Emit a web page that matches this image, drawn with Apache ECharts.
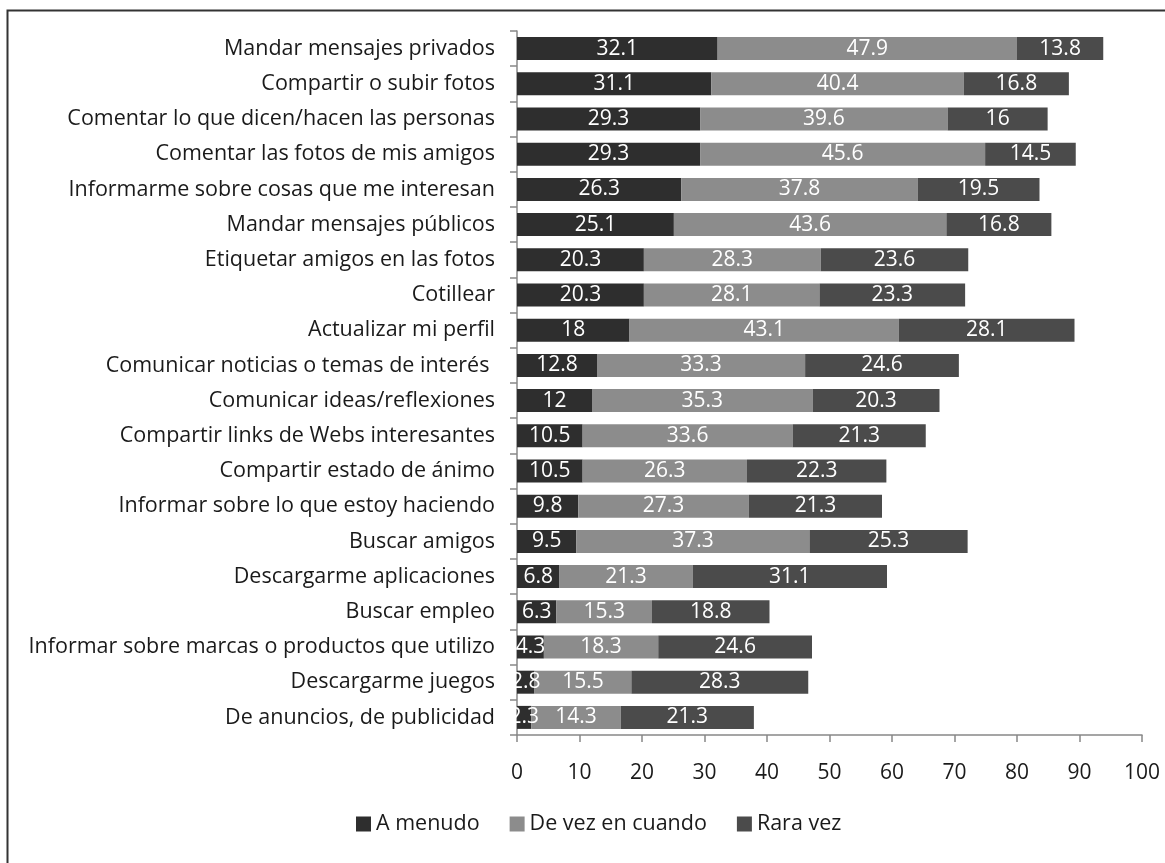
<!DOCTYPE html>
<html><head><meta charset="utf-8">
<script src="https://cdn.jsdelivr.net/npm/echarts@6/dist/echarts.min.js"></script>
<style>html,body{margin:0;padding:0;background:#fff}#c{width:1165px;height:863px}</style>
</head><body><div id="c"></div>
<script>
const categories = [
  "Mandar mensajes privados",
  "Compartir o subir fotos",
  "Comentar lo que dicen/hacen las personas",
  "Comentar las fotos de mis amigos",
  "Informarme sobre cosas que me interesan",
  "Mandar mensajes públicos",
  "Etiquetar amigos en las fotos",
  "Cotillear",
  "Actualizar mi perfil",
  "Comunicar noticias o temas de interés ",
  "Comunicar ideas/reflexiones",
  "Compartir links de Webs interesantes",
  "Compartir estado de ánimo",
  "Informar sobre lo que estoy haciendo",
  "Buscar amigos",
  "Descargarme aplicaciones",
  "Buscar empleo",
  "Informar sobre marcas o productos que utilizo",
  "Descargarme juegos",
  "De anuncios, de publicidad"
];
const aMenudo = [32.1,31.1,29.3,29.3,26.3,25.1,20.3,20.3,18,12.8,12,10.5,10.5,9.8,9.5,6.8,6.3,4.3,2.8,2.3];
const deVez = [47.9,40.4,39.6,45.6,37.8,43.6,28.3,28.1,43.1,33.3,35.3,33.6,26.3,27.3,37.3,21.3,15.3,18.3,15.5,14.3];
const raraVez = [13.8,16.8,16,14.5,19.5,16.8,23.6,23.3,28.1,24.6,20.3,21.3,22.3,21.3,25.3,31.1,18.8,24.6,28.3,21.3];
const seriesNames = ["A menudo","De vez en cuando","Rara vez"];
const xTicks = [0,10,20,30,40,50,60,70,80,90,100];

const FONT = "Open Sans";
const colors = ["#2e2e2e","#8c8c8c","#4b4b4b"];
const chart = echarts.init(document.getElementById('c'));
const mk = (name, data, color) => ({
  name, type: 'bar', stack: 'total', data, barWidth: 23,
  itemStyle: { color },
  label: { show: true, position: 'inside', color: '#fff', fontFamily: FONT, fontSize: 21 },
  emphasis: { disabled: true }
});
chart.setOption({
  animation: false,
  textStyle: { fontFamily: FONT },
  grid: { left: 517, right: 23, top: 31, bottom: 128 },
  legend: {
    top: 808, left: 351, itemWidth: 15, itemHeight: 15, itemGap: 30,
    icon: 'rect',
    textStyle: { fontFamily: FONT, fontSize: 21.5, color: '#1a1a1a' },
    data: seriesNames
  },
  xAxis: {
    type: 'value', min: xTicks[0], max: xTicks[xTicks.length-1], interval: 10,
    splitLine: { show: false },
    axisLine: { show: true, lineStyle: { color: '#888', width: 1.5 } },
    axisTick: { show: true, length: 7, lineStyle: { color: '#888', width: 1.5 } },
    axisLabel: { fontFamily: FONT, fontSize: 21, color: '#1a1a1a', margin: 28 }
  },
  yAxis: {
    type: 'category', data: categories, inverse: true,
    axisLine: { show: true, lineStyle: { color: '#888', width: 1.5 } },
    axisTick: { show: true, length: 7, lineStyle: { color: '#888', width: 1.5 } },
    axisLabel: { fontFamily: FONT, fontSize: 21.5, color: '#1a1a1a', margin: 22 }
  },
  graphic: [{
    type: 'rect', shape: { x: 7.5, y: 10.5, width: 1200, height: 900 },
    style: { fill: null, stroke: '#333', lineWidth: 2 }, silent: true
  }],
  series: [mk(seriesNames[0], aMenudo, colors[0]), mk(seriesNames[1], deVez, colors[1]), mk(seriesNames[2], raraVez, colors[2])]
});
</script></body></html>
